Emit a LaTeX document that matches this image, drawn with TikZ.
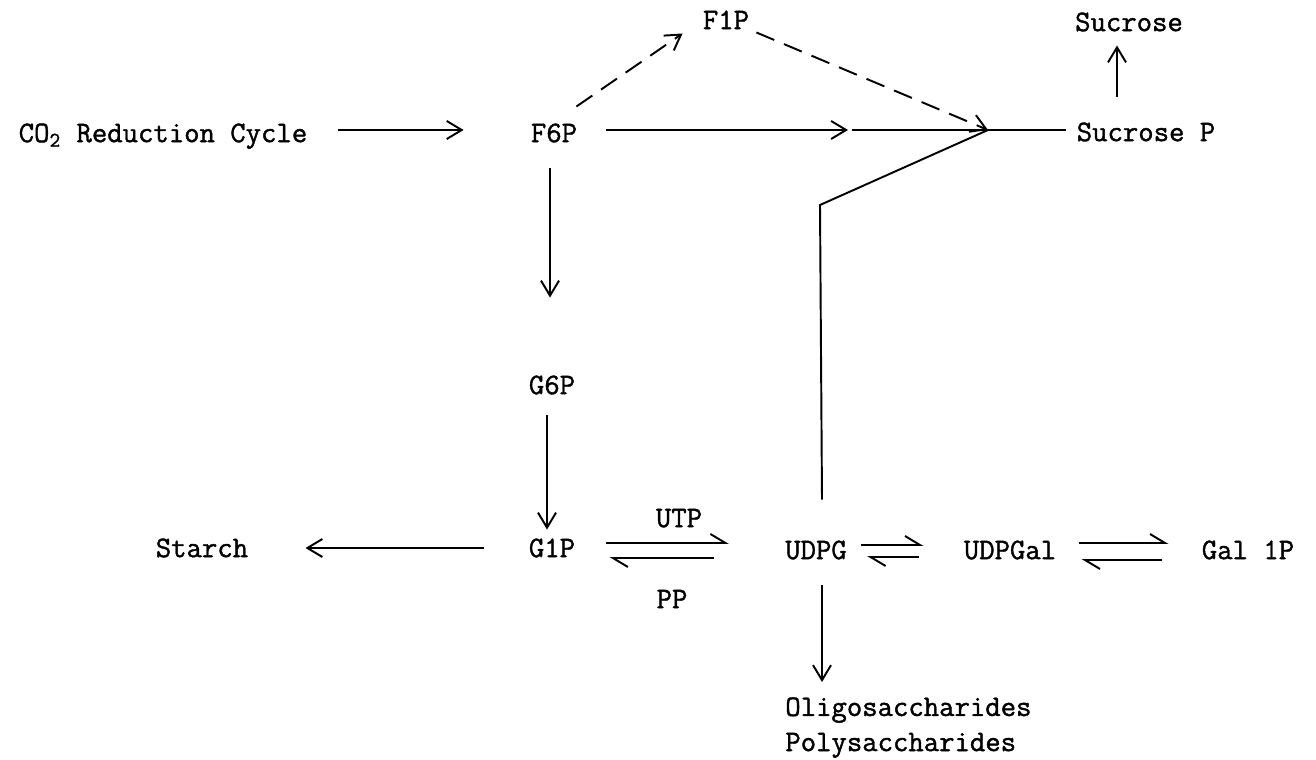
\documentclass[tikz,border=0pt]{standalone}
\usepackage{fontspec}
\newfontfamily\typew{Latin Modern Mono}[FakeBold=1.3]
\usetikzlibrary{calc, arrows.meta}

\begin{document}
\begin{tikzpicture}[x=0.02cm, y=-0.02cm,
		lbl/.style={font=\typew\fontsize{17}{20}\selectfont, inner sep=0pt, text height=10.4pt, text depth=0pt},
		arr/.style={line width=1.1pt, -{Straight Barb[length=3mm, width=3.6mm]}},
		hrp/.style={line width=1.1pt, -{Straight Barb[harpoon, length=3mm, width=3.6mm]}},
		dsh/.style={arr, dash pattern=on 11pt off 6pt}]
	\useasboundingbox (0,0) rectangle (1316,760);
	
	\coordinate (j) at (988,130);
	\coordinate (k) at (820,205);
	\coordinate (fmid) at (848,130);
	
	\node [lbl] (co2) at (163,133) {CO\textsubscript{2} Reduction Cycle};
	\node [lbl] (f6p) at (554,133) {F6P};
	\node [lbl] (f1p) at (726,20) {F1P};
	\node [lbl] (suc) at (1129,22) {Sucrose};
	\node [lbl] (sucp) at (1146,132) {Sucrose P};
	\node [lbl] (g6p) at (552,385) {G6P};
	\node [lbl] (g1p) at (552,548) {G1P};
	\node [lbl] (starch) at (202,548) {Starch};
	\node [lbl] (utp) at (679,518) {UTP};
	\node [lbl] (pp) at (672,599) {PP};
	\node [lbl] (udpg) at (816,550) {UDPG};
	\node [lbl] (udpgal) at (1010,550) {UDPGal};
	\node [lbl] (gal) at (1248,550) {Gal 1P};
	\node [lbl, text height=, align=left, anchor=north west] (oligo) at (785,697) {Oligosaccharides\\Polysaccharides};
	
	\begin{scope}
		\draw [arr] ($ (co2.east) + (30,-3) $) -- ($ (f6p.west) + (-67,-3) $);
		\draw [arr] ($ (f6p.east) + (29,-3) $) -- (fmid);
		\draw [line width=1.1pt] ($ (fmid) + (4,0) $) -- ($ (sucp.west) + (-10,-2) $);
		\draw [dsh] ($ (f6p.north east) + (-1,-17) $) -- ($ (f1p.south west) + (-20,4) $);
		\draw [dsh] ($ (f1p.south east) + (7,3) $) -- (j);
		\draw [line width=1.1pt] ($ (udpg.north) + (6,-41) $) -- (k) -- (j);
		\draw [arr] ($ (sucp.north) + (-29,-26) $) -- ($ (suc.south) + (-12,14) $);
	\end{scope}
	
	\begin{scope}
		\draw [arr] ($ (f6p.south) + (-4,26) $) -- ($ (g6p.north) + (-2,-78) $);
		\draw [arr] ($ (g6p.south) + (-5,21) $) -- ($ (g1p.north) + (-5,-9) $);
		\draw [arr] ($ (g1p.west) + (-45,0) $) -- ($ (starch.east) + (57,0) $);
		\draw [arr] ($ (udpg.south) + (6,26) $) -- ($ (oligo.north west) + (37,-15) $);
	\end{scope}
	
	\begin{scope}
		\draw [hrp] ($ (g1p.east) + (31,-5) $) -- ($ (udpg.west) + (-56,-7) $);
		\draw [hrp] ($ (udpg.west) + (-71,8) $) -- ($ (g1p.east) + (34,10) $);
		\draw [hrp] ($ (udpg.east) + (14,-5) $) -- ($ (udpgal.west) + (-40,-5) $);
		\draw [hrp] ($ (udpgal.west) + (-45,7) $) -- ($ (udpg.east) + (20,7) $);
		\draw [hrp] ($ (udpgal.east) + (22,-7) $) -- ($ (gal.west) + (-33,-7) $);
		\draw [hrp] ($ (gal.west) + (-40,10) $) -- ($ (udpgal.east) + (25,10) $);
	\end{scope}
\end{tikzpicture}
\end{document}
